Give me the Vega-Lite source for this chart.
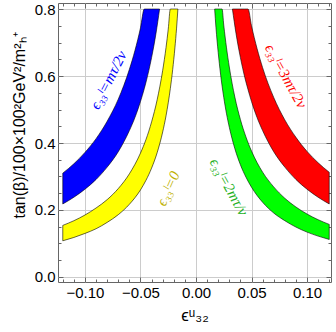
{
  "$schema": "https://vega.github.io/schema/vega-lite/v6.json",
  "autosize": "none",
  "width": 273,
  "height": 279,
  "padding": {"left": 58, "top": 3, "right": 5, "bottom": 50},
  "background": "white",
  "config": {
    "view": {"stroke": "#666666", "strokeWidth": 1},
    "axis": {"domain": false, "labelFont": "Liberation Sans", "titleFont": "Liberation Sans", "labelFontSize": 15, "titleFontSize": 16, "titleFontWeight": "normal", "labelColor": "black", "titleColor": "black", "tickColor": "#666666", "gridColor": "#cccccc", "labelOverlap": false, "labelFlush": false}
  },
  "datasets": {
    "bands": [
      {"band": "mτ/2v", "x": -0.12, "yu": 0.31, "yl": 0.218},
      {"band": "mτ/2v", "x": -0.11, "yu": 0.338, "yl": 0.238},
      {"band": "mτ/2v", "x": -0.10, "yu": 0.372, "yl": 0.262},
      {"band": "mτ/2v", "x": -0.09, "yu": 0.413, "yl": 0.291},
      {"band": "mτ/2v", "x": -0.08, "yu": 0.465, "yl": 0.328},
      {"band": "mτ/2v", "x": -0.07, "yu": 0.531, "yl": 0.374},
      {"band": "mτ/2v", "x": -0.06, "yu": 0.62, "yl": 0.437},
      {"band": "mτ/2v", "x": -0.055, "yu": 0.676, "yl": 0.476},
      {"band": "mτ/2v", "x": -0.05, "yu": 0.744, "yl": 0.524},
      {"band": "mτ/2v", "x": -0.0466, "yu": 0.8, "yl": 0.562},
      {"band": "mτ/2v", "x": -0.045, "yu": 0.8, "yl": 0.582},
      {"band": "mτ/2v", "x": -0.04, "yu": 0.8, "yl": 0.655},
      {"band": "mτ/2v", "x": -0.036, "yu": 0.8, "yl": 0.728},
      {"band": "mτ/2v", "x": -0.0328, "yu": 0.8, "yl": 0.8},
      {"band": "0", "x": -0.12, "yu": 0.154, "yl": 0.108},
      {"band": "0", "x": -0.11, "yu": 0.168, "yl": 0.118},
      {"band": "0", "x": -0.10, "yu": 0.185, "yl": 0.13},
      {"band": "0", "x": -0.09, "yu": 0.206, "yl": 0.144},
      {"band": "0", "x": -0.08, "yu": 0.231, "yl": 0.163},
      {"band": "0", "x": -0.07, "yu": 0.264, "yl": 0.186},
      {"band": "0", "x": -0.06, "yu": 0.308, "yl": 0.217},
      {"band": "0", "x": -0.05, "yu": 0.37, "yl": 0.26},
      {"band": "0", "x": -0.045, "yu": 0.411, "yl": 0.289},
      {"band": "0", "x": -0.04, "yu": 0.463, "yl": 0.325},
      {"band": "0", "x": -0.035, "yu": 0.529, "yl": 0.371},
      {"band": "0", "x": -0.03, "yu": 0.617, "yl": 0.433},
      {"band": "0", "x": -0.027, "yu": 0.685, "yl": 0.481},
      {"band": "0", "x": -0.025, "yu": 0.74, "yl": 0.52},
      {"band": "0", "x": -0.0231, "yu": 0.8, "yl": 0.563},
      {"band": "0", "x": -0.021, "yu": 0.8, "yl": 0.619},
      {"band": "0", "x": -0.019, "yu": 0.8, "yl": 0.684},
      {"band": "0", "x": -0.0175, "yu": 0.8, "yl": 0.743},
      {"band": "0", "x": -0.0163, "yu": 0.8, "yl": 0.8},
      {"band": "2mτ/v", "x": 0.0168, "yu": 0.8, "yl": 0.8},
      {"band": "2mτ/v", "x": 0.018, "yu": 0.8, "yl": 0.744},
      {"band": "2mτ/v", "x": 0.02, "yu": 0.8, "yl": 0.67},
      {"band": "2mτ/v", "x": 0.022, "yu": 0.8, "yl": 0.609},
      {"band": "2mτ/v", "x": 0.0235, "yu": 0.8, "yl": 0.57},
      {"band": "2mτ/v", "x": 0.025, "yu": 0.752, "yl": 0.536},
      {"band": "2mτ/v", "x": 0.0275, "yu": 0.684, "yl": 0.487},
      {"band": "2mτ/v", "x": 0.03, "yu": 0.627, "yl": 0.447},
      {"band": "2mτ/v", "x": 0.035, "yu": 0.537, "yl": 0.383},
      {"band": "2mτ/v", "x": 0.04, "yu": 0.47, "yl": 0.335},
      {"band": "2mτ/v", "x": 0.045, "yu": 0.418, "yl": 0.298},
      {"band": "2mτ/v", "x": 0.05, "yu": 0.376, "yl": 0.268},
      {"band": "2mτ/v", "x": 0.06, "yu": 0.313, "yl": 0.223},
      {"band": "2mτ/v", "x": 0.07, "yu": 0.269, "yl": 0.191},
      {"band": "2mτ/v", "x": 0.08, "yu": 0.235, "yl": 0.168},
      {"band": "2mτ/v", "x": 0.09, "yu": 0.209, "yl": 0.149},
      {"band": "2mτ/v", "x": 0.10, "yu": 0.188, "yl": 0.134},
      {"band": "2mτ/v", "x": 0.11, "yu": 0.171, "yl": 0.122},
      {"band": "2mτ/v", "x": 0.12, "yu": 0.157, "yl": 0.112},
      {"band": "3mτ/2v", "x": 0.0328, "yu": 0.8, "yl": 0.8},
      {"band": "3mτ/2v", "x": 0.036, "yu": 0.8, "yl": 0.728},
      {"band": "3mτ/2v", "x": 0.04, "yu": 0.8, "yl": 0.655},
      {"band": "3mτ/2v", "x": 0.044, "yu": 0.8, "yl": 0.595},
      {"band": "3mτ/2v", "x": 0.0469, "yu": 0.8, "yl": 0.559},
      {"band": "3mτ/2v", "x": 0.05, "yu": 0.75, "yl": 0.524},
      {"band": "3mτ/2v", "x": 0.055, "yu": 0.682, "yl": 0.476},
      {"band": "3mτ/2v", "x": 0.06, "yu": 0.625, "yl": 0.437},
      {"band": "3mτ/2v", "x": 0.07, "yu": 0.536, "yl": 0.374},
      {"band": "3mτ/2v", "x": 0.08, "yu": 0.469, "yl": 0.328},
      {"band": "3mτ/2v", "x": 0.09, "yu": 0.417, "yl": 0.291},
      {"band": "3mτ/2v", "x": 0.10, "yu": 0.375, "yl": 0.262},
      {"band": "3mτ/2v", "x": 0.11, "yu": 0.341, "yl": 0.238},
      {"band": "3mτ/2v", "x": 0.12, "yu": 0.3125, "yl": 0.218}
    ]
  },
  "layer": [
    {
      "data": {"name": "bands"},
      "mark": {"type": "area", "interpolate": "monotone", "stroke": "black", "strokeWidth": 0.6, "fillOpacity": 1},
      "encoding": {
        "x": {"field": "x", "type": "quantitative", "scale": {"domain": [-0.1243, 0.1216], "nice": false, "zero": false},
          "axis": {"orient": "bottom", "title": "ϵᵘ₃₂", "titleFontSize": 17, "titlePadding": 5,
            "values": [-0.12,-0.11,-0.10,-0.09,-0.08,-0.07,-0.06,-0.05,-0.04,-0.03,-0.02,-0.01,0,0.01,0.02,0.03,0.04,0.05,0.06,0.07,0.08,0.09,0.10,0.11,0.12],
            "labelExpr": "abs(datum.value*20-round(datum.value*20))<1e-6 ? format(datum.value,'.2f') : ''",
            "tickSize": {"condition": {"test": "abs(datum.value*20-round(datum.value*20))<1e-6", "value": -5}, "value": -3},
            "gridOpacity": {"condition": {"test": "abs(datum.value*20-round(datum.value*20))<1e-6", "value": 1}, "value": 0},
            "labelPadding": 8}},
        "y": {"field": "yu", "type": "quantitative", "scale": {"domain": [-0.015, 0.818], "nice": false, "zero": false},
          "axis": {"orient": "left", "title": "tan(β)/100×100²GeV²/m²ₕ⁺", "titlePadding": 7, "titleY": 122,
            "values": [0,0.05,0.1,0.15,0.2,0.25,0.3,0.35,0.4,0.45,0.5,0.55,0.6,0.65,0.7,0.75,0.8],
            "labelExpr": "abs(datum.value*5-round(datum.value*5))<1e-6 ? format(datum.value,'.1f') : ''",
            "tickSize": {"condition": {"test": "abs(datum.value*5-round(datum.value*5))<1e-6", "value": -5}, "value": -3},
            "gridOpacity": {"condition": {"test": "abs(datum.value*5-round(datum.value*5))<1e-6", "value": 1}, "value": 0},
            "labelPadding": 8}},
        "y2": {"field": "yl"},
        "color": {"field": "band", "type": "nominal", "scale": {"domain": ["mτ/2v", "0", "2mτ/v", "3mτ/2v"], "range": ["#0000ff", "#ffff00", "#00ff00", "#ff0000"]}, "legend": null}
      }
    },
    {
      "data": {"values": [{"x": -0.079, "y": 0.588, "t": "ϵ₃₃ˡ=mτ/2v"}]},
      "mark": {"type": "text", "font": "Liberation Serif", "fontStyle": "italic", "fontSize": 15, "color": "#0000ff", "angle": 297, "align": "center", "baseline": "middle"},
      "encoding": {
        "x": {"field": "x", "type": "quantitative", "scale": {"domain": [-0.1243, 0.1216], "nice": false, "zero": false},
          "axis": {"orient": "top", "title": null, "labels": false, "grid": false,
            "values": [-0.12,-0.11,-0.10,-0.09,-0.08,-0.07,-0.06,-0.05,-0.04,-0.03,-0.02,-0.01,0,0.01,0.02,0.03,0.04,0.05,0.06,0.07,0.08,0.09,0.10,0.11,0.12],
            "tickSize": {"condition": {"test": "abs(datum.value*20-round(datum.value*20))<1e-6", "value": -5}, "value": -3}}},
        "y": {"field": "y", "type": "quantitative", "scale": {"domain": [-0.015, 0.818], "nice": false, "zero": false},
          "axis": {"orient": "right", "title": null, "labels": false, "grid": false,
            "values": [0,0.05,0.1,0.15,0.2,0.25,0.3,0.35,0.4,0.45,0.5,0.55,0.6,0.65,0.7,0.75,0.8],
            "tickSize": {"condition": {"test": "abs(datum.value*5-round(datum.value*5))<1e-6", "value": -5}, "value": -3}}},
        "text": {"field": "t"}
      }
    },
    {
      "data": {"values": [{"x": -0.0252, "y": 0.264, "t": "ϵ₃₃ˡ=0"}]},
      "mark": {"type": "text", "font": "Liberation Serif", "fontStyle": "italic", "fontSize": 15, "color": "#bdb000", "angle": 294, "align": "center", "baseline": "middle"},
      "encoding": {
        "x": {"field": "x", "type": "quantitative", "scale": {"domain": [-0.1243, 0.1216], "nice": false, "zero": false}, "axis": null},
        "y": {"field": "y", "type": "quantitative", "scale": {"domain": [-0.015, 0.818], "nice": false, "zero": false}, "axis": null},
        "text": {"field": "t"}
      }
    },
    {
      "data": {"values": [{"x": 0.0297, "y": 0.269, "t": "ϵ₃₃ˡ=2mτ/v"}]},
      "mark": {"type": "text", "font": "Liberation Serif", "fontStyle": "italic", "fontSize": 15, "color": "#22b022", "angle": 61, "align": "center", "baseline": "middle"},
      "encoding": {
        "x": {"field": "x", "type": "quantitative", "scale": {"domain": [-0.1243, 0.1216], "nice": false, "zero": false}, "axis": null},
        "y": {"field": "y", "type": "quantitative", "scale": {"domain": [-0.015, 0.818], "nice": false, "zero": false}, "axis": null},
        "text": {"field": "t"}
      }
    },
    {
      "data": {"values": [{"x": 0.081, "y": 0.6, "t": "ϵ₃₃ˡ=3mτ/2v"}]},
      "mark": {"type": "text", "font": "Liberation Serif", "fontStyle": "italic", "fontSize": 15, "color": "#ff0000", "angle": 61, "align": "center", "baseline": "middle"},
      "encoding": {
        "x": {"field": "x", "type": "quantitative", "scale": {"domain": [-0.1243, 0.1216], "nice": false, "zero": false}, "axis": null},
        "y": {"field": "y", "type": "quantitative", "scale": {"domain": [-0.015, 0.818], "nice": false, "zero": false}, "axis": null},
        "text": {"field": "t"}
      }
    }
  ],
  "resolve": {"axis": {"x": "independent", "y": "independent"}}
}
